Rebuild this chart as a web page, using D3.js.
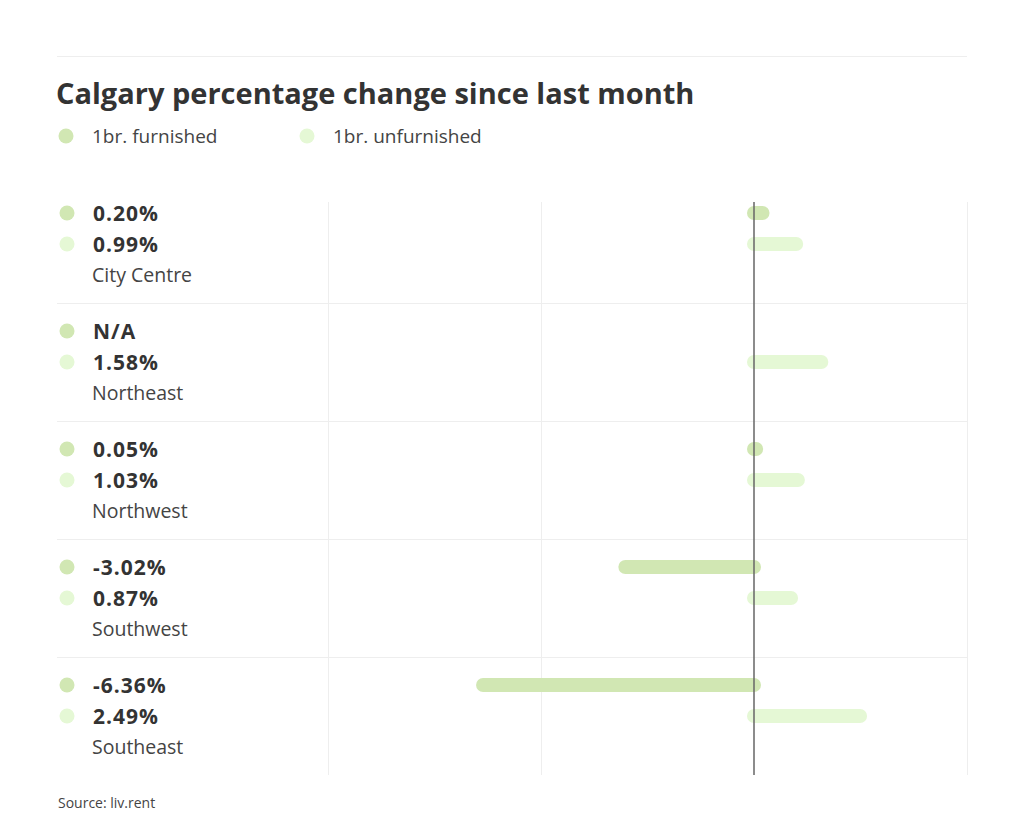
<!DOCTYPE html>
<html>
<head>
<meta charset="utf-8">
<script src="https://cdn.jsdelivr.net/npm/d3@7"></script>
<style>
  body { margin: 0; background: #fff; }
  text { font-family: "Open Sans", "Noto Sans", sans-serif; }
</style>
</head>
<body>
<div id="chart"></div>
<script>
// data
const regions = ["City Centre", "Northeast", "Northwest", "Southwest", "Southeast"];
const furnished = [0.20, null, 0.05, -3.02, -6.36];
const unfurnished = [0.99, 1.58, 1.03, 0.87, 2.49];
const seriesNames = ["1br. furnished", "1br. unfurnished"];
const gridTicks = [-10, -5, 0, 5];

const colors = ["#d1e7b3", "#e5f8d5"];
const width = 1024, height = 836;

const svg = d3.select("#chart").append("svg")
    .attr("width", width)
    .attr("height", height);

// scales
const x = d3.scaleLinear().domain([-10, 5]).range([328, 967]);
const y = d3.scaleBand().domain(regions).range([185, 775]).padding(0);

// top rule
svg.append("line")
    .attr("x1", 57).attr("x2", 967)
    .attr("y1", 56.5).attr("y2", 56.5)
    .attr("stroke", "#eeeeee").attr("stroke-width", 1);

// title
svg.append("text")
    .attr("x", 56).attr("y", 104)
    .attr("font-size", 29).attr("font-weight", 700)
    .attr("fill", "#333")
    .text("Calgary percentage change since last month");

// legend
const legend = svg.append("g");
const legendX = [66, 307];
seriesNames.forEach((name, i) => {
    legend.append("circle")
        .attr("cx", legendX[i]).attr("cy", 136).attr("r", 7.5)
        .attr("fill", colors[i]);
    legend.append("text")
        .attr("x", legendX[i] + 26).attr("y", 136).attr("dy", "0.35em")
        .attr("font-size", 19).attr("fill", "#444")
        .text(name);
});

// vertical grid
svg.append("g").selectAll("line")
    .data(gridTicks.filter(d => d !== 0))
    .enter().append("line")
    .attr("x1", d => x(d) + 0.5).attr("x2", d => x(d) + 0.5)
    .attr("y1", 202).attr("y2", 775)
    .attr("stroke", "#eeeeee").attr("stroke-width", 1);

// horizontal separators between regions
svg.append("g").selectAll("line")
    .data(regions.slice(1))
    .enter().append("line")
    .attr("x1", 57).attr("x2", 967)
    .attr("y1", d => y(d) + 0.5).attr("y2", d => y(d) + 0.5)
    .attr("stroke", "#eeeeee").attr("stroke-width", 1);

// rows
const rows = svg.append("g").selectAll("g")
    .data(regions.map((r, i) => ({ region: r, vals: [furnished[i], unfurnished[i]] })))
    .enter().append("g")
    .attr("transform", d => `translate(0,${y(d.region)})`);

const rowOffsets = [28, 59];
const fmt = v => v.toFixed(2) + "%";

rowOffsets.forEach((off, k) => {
    rows.append("circle")
        .attr("cx", 67).attr("cy", off).attr("r", 7.5)
        .attr("fill", colors[k]);
    rows.append("text")
        .attr("x", 93).attr("y", off).attr("dy", "0.36em")
        .attr("font-size", 21).attr("font-weight", 700)
        .attr("letter-spacing", 1)
        .attr("fill", "#333")
        .text(d => d.vals[k] == null ? "N/A" : fmt(d.vals[k]));
    rows.filter(d => d.vals[k] != null).append("line")
        .attr("x1", x(0))
        .attr("x2", d => x(d.vals[k]))
        .attr("y1", off).attr("y2", off)
        .attr("stroke", colors[k])
        .attr("stroke-width", 14)
        .attr("stroke-linecap", "round");
});

rows.append("text")
    .attr("x", 92).attr("y", 90).attr("dy", "0.36em")
    .attr("font-size", 19.5).attr("fill", "#444")
    .text(d => d.region);

// zero line
svg.append("line")
    .attr("x1", x(0)).attr("x2", x(0))
    .attr("y1", 202).attr("y2", 775)
    .attr("stroke", "#666").attr("stroke-width", 1.5);

// source
svg.append("text")
    .attr("x", 58).attr("y", 803).attr("dy", "0.35em")
    .attr("font-size", 14).attr("fill", "#444")
    .text("Source: liv.rent");
</script>
</body>
</html>
